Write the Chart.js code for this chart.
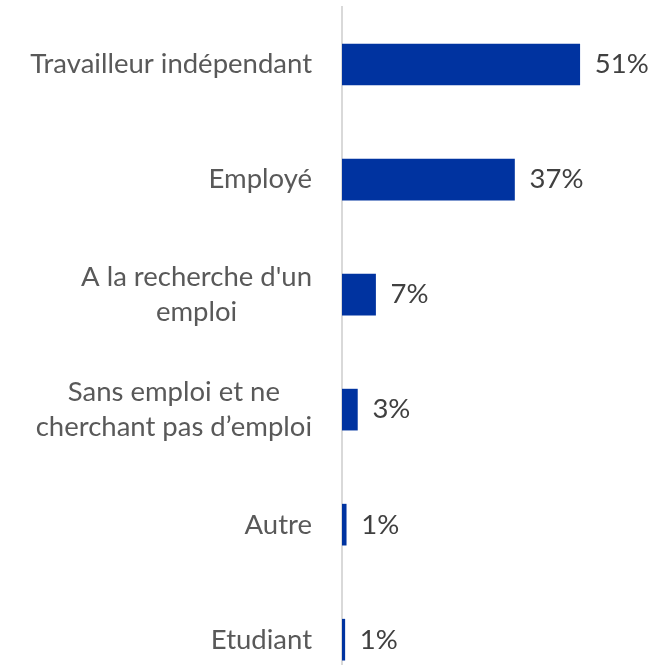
<!DOCTYPE html>
<html>
<head>
<meta charset="utf-8">
<script src="https://cdn.jsdelivr.net/npm/chart.js@4"></script>
<style>
  html, body { margin: 0; padding: 0; background: #fff; overflow: hidden; }
  #wrap { width: 659px; height: 665px; position: relative; }
</style>
</head>
<body>
<div id="wrap"><canvas id="statutChart"></canvas></div>
<script>
// Categories (line breaks as in the picture)
const categories = [
    ["Travailleur indépendant"],
    ["Employé"],
    ["A la recherche d'un", "emploi"],
    ["Sans emploi et ne", "cherchant pas d\u2019emploi"],
    ["Autre"],
    ["Etudiant"]
];
// Shares (%)
const shares = [51, 37, 7.2, 3.3, 0.9, 0.6];
// Printed value labels
const valueLabels = ["51%", "37%", "7%", "3%", "1%", "1%"];

const FONT = "Lato, 'Open Sans', sans-serif";
const FONT_SIZE = 27.5;

// Category labels: each block right-aligned, lines centred in the block
const categoryLabels = {
    id: 'categoryLabels',
    afterDraw(chart) {
        const c = chart.ctx;
        const y = chart.scales.y;
        const rightEdge = y.right - 30;
        const lineH = 35;
        c.save();
        c.font = FONT_SIZE + 'px ' + FONT;
        c.fillStyle = '#595959';
        c.textAlign = 'center';
        c.textBaseline = 'middle';
        categories.forEach((lines, i) => {
            const w = Math.max(...lines.map(l => c.measureText(l).width));
            const cx = rightEdge - w / 2;
            const cy = y.getPixelForValue(i);
            lines.forEach((l, k) => {
                c.fillText(l, cx, cy + (k - (lines.length - 1) / 2) * lineH);
            });
        });
        c.restore();
    }
};

// Value labels to the right of each bar
const barValues = {
    id: 'barValues',
    afterDatasetsDraw(chart) {
        const c = chart.ctx;
        const meta = chart.getDatasetMeta(0);
        c.save();
        c.font = FONT_SIZE + 'px ' + FONT;
        c.fillStyle = '#404040';
        c.textAlign = 'left';
        c.textBaseline = 'middle';
        meta.data.forEach((bar, i) => {
            c.fillText(valueLabels[i], bar.x + 15, bar.y);
        });
        c.restore();
    }
};

const ctx = document.getElementById('statutChart').getContext('2d');

const statutChart = new Chart(ctx, {
    type: 'bar',
    data: {
        datasets: [{
            data: shares.map((v, i) => ({ x: v, y: i })),
            backgroundColor: '#0033A0',
            borderWidth: 0,
            barThickness: 41
        }]
    },
    options: {
        indexAxis: 'y',
        responsive: true,
        maintainAspectRatio: false,
        animation: false,
        layout: { padding: { top: 7, right: 0, bottom: 0, left: 0 } },
        plugins: {
            legend: { display: false },
            tooltip: { enabled: false }
        },
        scales: {
            x: {
                type: 'linear',
                display: false,
                min: 0,
                max: 68
            },
            y: {
                type: 'linear',
                reverse: true,
                offset: false,
                min: -0.5,
                max: 5.22,
                grid: { display: false, drawTicks: false },
                ticks: { display: false },
                border: { display: true, color: '#d9d9d9', width: 2 },
                afterFit(scale) { scale.width = 342; }
            }
        }
    },
    plugins: [categoryLabels, barValues]
});
</script>
</body>
</html>
